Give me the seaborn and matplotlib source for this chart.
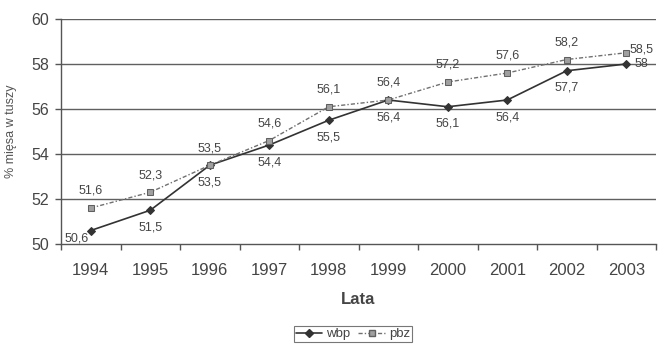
import matplotlib
matplotlib.use("Agg")
import matplotlib.pyplot as plt
import seaborn as sns
import pandas as pd
import numpy as np
from matplotlib.lines import Line2D

years = ["1994", "1995", "1996", "1997", "1998", "1999", "2000", "2001", "2002", "2003"]
wbp = [50.6, 51.5, 53.5, 54.4, 55.5, 56.4, 56.1, 56.4, 57.7, 58.0]
pbz = [51.6, 52.3, 53.5, 54.6, 56.1, 56.4, 57.2, 57.6, 58.2, 58.5]
y_ticks = [50, 52, 54, 56, 58, 60]

sns.set_theme(style="white")
plt.rcParams["font.family"] = ["Liberation Sans", "DejaVu Sans"]

ink = "#333333"
text_c = "#454545"
dot_c = "#707070"

df = pd.DataFrame({"pos": np.arange(len(years)), "wbp": wbp, "pbz": pbz})

fig = plt.figure(figsize=(6.58, 3.44), dpi=100)
ax = fig.add_axes([61 / 658, 1 - 244 / 344, (656 - 61) / 658, (244 - 19) / 344])

sns.lineplot(data=df, x="pos", y="wbp", ax=ax, color=ink, lw=1.2,
             marker="D", markersize=4.5, markeredgecolor=ink, markerfacecolor=ink)
sns.lineplot(data=df, x="pos", y="pbz", ax=ax, color=dot_c, lw=1.0,
             linestyle=(0, (3, 1.5, 1, 1.5)), marker="s", markersize=5,
             markeredgecolor="#606060", markerfacecolor="#a0a0a0")

ax.set_xlim(-0.5, len(years) - 0.5)
ax.set_ylim(50, 60)
ax.set_yticks(y_ticks)
ax.set_yticklabels([str(v) for v in y_ticks], fontsize=11.5, color=text_c)
ax.set_xticks(np.arange(len(years)))
ax.set_xticklabels(years, fontsize=12, color=text_c)
ax.tick_params(axis="x", length=0, pad=14)
ax.tick_params(axis="y", length=4.5, width=1, pad=4, color="#555555", left=True)
ax.set_xticks(np.arange(-0.5, len(years), 1), minor=True)
ax.tick_params(axis="x", which="minor", length=4, color="#555555", bottom=True)

for v in y_ticks[1:]:
    ax.axhline(v, color="#606060", lw=1.0, zorder=0)

for s in ["top", "right"]:
    ax.spines[s].set_visible(False)
for s in ["left", "bottom"]:
    ax.spines[s].set_color("#555555")
    ax.spines[s].set_linewidth(1.0)

fmt = lambda v: (f"{v:g}").replace(".", ",")
lab_fs = 9

for i, (a, b) in enumerate(zip(wbp, pbz)):
    if i == len(years) - 1:
        ax.annotate(fmt(b), (i, b), xytext=(2, 2), textcoords="offset points",
                    ha="left", va="center", fontsize=lab_fs, color=text_c)
        ax.annotate(fmt(a), (i, a), xytext=(6, 0), textcoords="offset points",
                    ha="left", va="center", fontsize=lab_fs, color=text_c)
        continue
    ax.annotate(fmt(b), (i, b), xytext=(0, 8), textcoords="offset points",
                ha="center", va="bottom", fontsize=lab_fs, color=text_c)
    if i == 0:
        ax.annotate(fmt(a), (i, a), xytext=(-10, -6), textcoords="offset points",
                    ha="center", va="center", fontsize=lab_fs, color=text_c)
    else:
        ax.annotate(fmt(a), (i, a), xytext=(0, -8), textcoords="offset points",
                    ha="center", va="top", fontsize=lab_fs, color=text_c)

ax.set_xlabel("Lata", fontsize=12, fontweight="bold", color=text_c, labelpad=10)
ax.set_ylabel("% mięsa w tuszy", fontsize=9, color="#555555", labelpad=10)

handles = [
    Line2D([], [], color=ink, lw=1.2, marker="D", markersize=4, markerfacecolor=ink),
    Line2D([], [], color=dot_c, lw=1.0, linestyle=(0, (3, 1.5, 1, 1.5)), marker="s",
           markersize=4.5, markeredgecolor="#606060", markerfacecolor="#a0a0a0"),
]
leg = fig.legend(handles, ["wbp", "pbz"], loc="center", bbox_to_anchor=(353 / 658, 1 - 334 / 344),
                 ncol=2, frameon=True, fancybox=False, fontsize=9.5, handlelength=2.0,
                 handletextpad=0.3, columnspacing=0.6, borderpad=0.15, labelcolor=text_c)
leg.get_frame().set_edgecolor("#555555")
leg.get_frame().set_linewidth(0.8)

fig.savefig("out.png", dpi=100)
